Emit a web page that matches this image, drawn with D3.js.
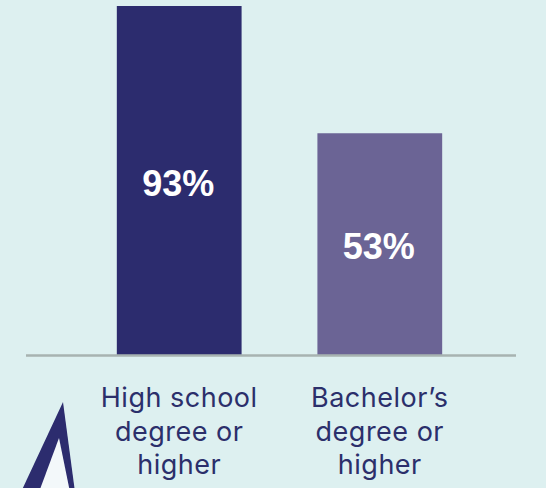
<!DOCTYPE html>
<html>
<head>
<meta charset="utf-8">
<script src="https://cdn.jsdelivr.net/npm/d3@7"></script>
<style>
  html, body { margin: 0; padding: 0; background: #ddf0f0; }
  svg { display: block; }
</style>
</head>
<body>
<div id="chart"></div>
<script>
const categories = ["High school degree or higher", "Bachelor’s degree or higher"];
const categoryLines = [["High school", "degree or", "higher"], ["Bachelor’s", "degree or", "higher"]];
const values = [93, 53];
const valueLabels = ["93%", "53%"];
const barColors = ["#2c2c6e", "#6b6495"];

const W = 546, H = 488;
const svg = d3.select("#chart").append("svg").attr("width", W).attr("height", H);
svg.append("rect").attr("width", W).attr("height", H).attr("fill", "#ddf0f0");

const x = d3.scaleBand().domain(categories).range([41, 518]).paddingInner(0.378).paddingOuter(0.378);
const y = d3.scaleLinear().domain([-16.7, 93]).range([355, 6]);
const base = 355;

// decorative triangle (bottom-left)
svg.append("path").attr("d", "M63,402 L21,492 L75,492 Z").attr("fill", "#2c2c6e");
svg.append("path").attr("d", "M59,438 L39,492 L70,492 Z").attr("fill", "#f3f8fa");

// bars
svg.selectAll("rect.bar").data(values).enter().append("rect")
  .attr("class", "bar")
  .attr("x", (d, i) => x(categories[i]))
  .attr("width", x.bandwidth())
  .attr("y", d => y(d))
  .attr("height", d => base - y(d))
  .attr("fill", (d, i) => barColors[i]);

// baseline
svg.append("line").attr("x1", 26).attr("x2", 516).attr("y1", base + 0.5).attr("y2", base + 0.5)
  .attr("stroke", "#a7b3b1").attr("stroke-width", 2.5);

// value labels
svg.selectAll("text.val").data(values).enter().append("text")
  .attr("class", "val")
  .attr("x", (d, i) => x(categories[i]) + x.bandwidth() / 2 - 1)
  .attr("y", d => (y(d) + base) / 2 + 15)
  .attr("text-anchor", "middle")
  .attr("font-family", "Liberation Sans, Arial, sans-serif")
  .attr("font-weight", "bold")
  .attr("font-size", 36)
  .attr("fill", "#ffffff")
  .text((d, i) => valueLabels[i]);

// category labels
categoryLines.forEach((lines, i) => {
  const t = svg.append("text")
    .attr("text-anchor", "middle")
    .attr("font-family", "Inter, Lato, sans-serif")
    .attr("font-size", 27)
    .attr("letter-spacing", 0.5)
    .attr("fill", "#2b2f6b");
  lines.forEach((ln, j) => {
    t.append("tspan")
      .attr("x", x(categories[i]) + x.bandwidth() / 2)
      .attr("y", 407 + j * 33.5)
      .text(ln);
  });
});
</script>
</body>
</html>
